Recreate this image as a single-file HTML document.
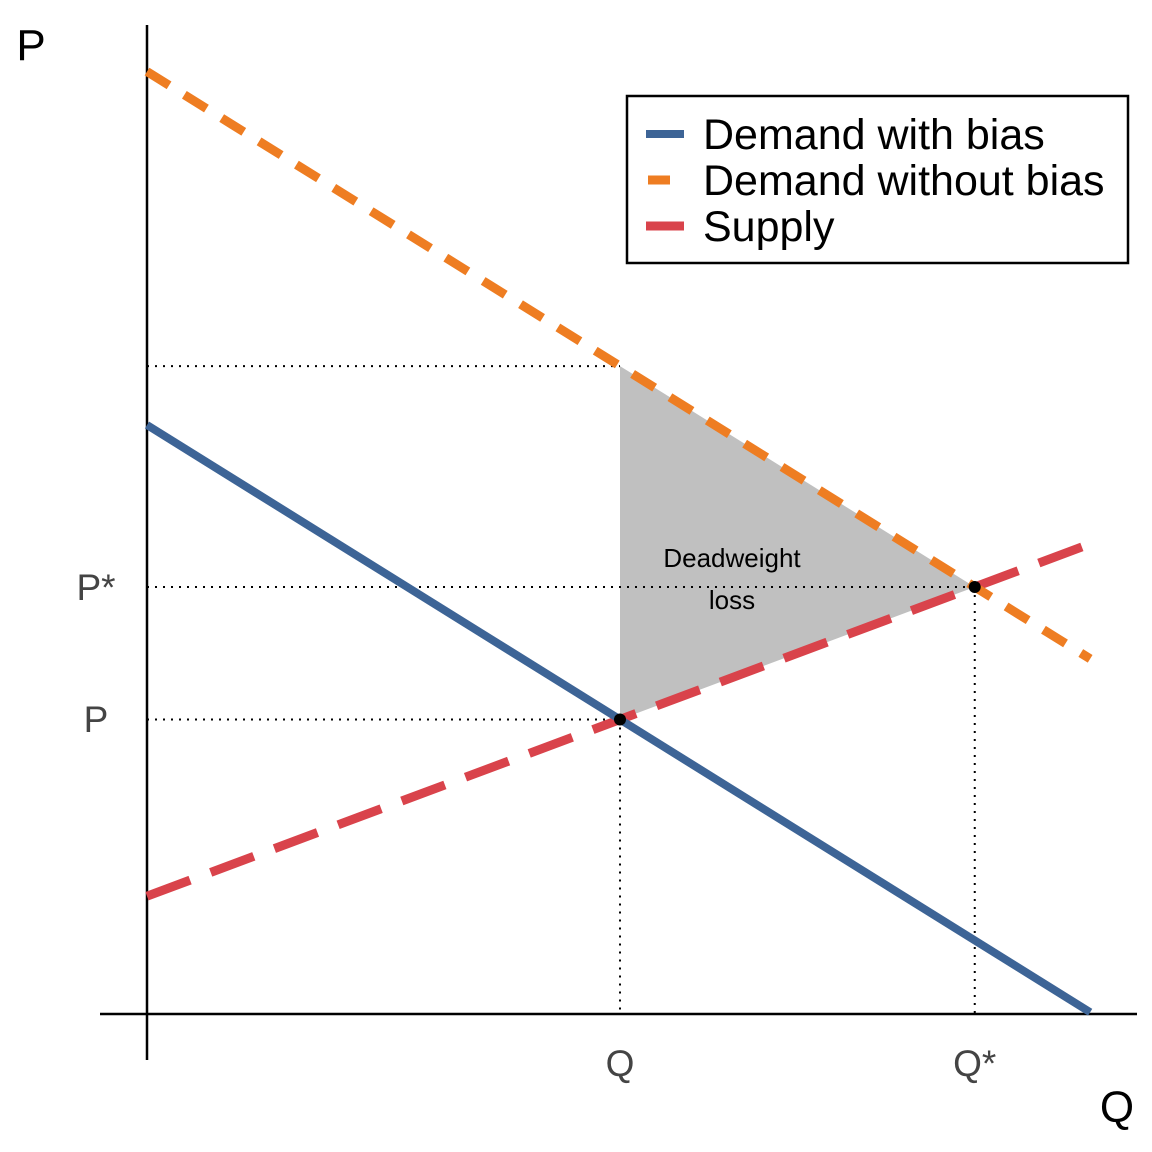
<!DOCTYPE html>
<html><head><meta charset="utf-8"><style>
html,body{margin:0;padding:0;background:#fff;width:1152px;height:1152px;overflow:hidden}
svg{font-family:"Liberation Sans",sans-serif}
</style></head><body>
<svg id="chart" width="1152" height="1152">
</svg>
<script>
const qMax = [10];
const demandBias = [10, -1];      // intercept, slope
const demandNoBias = [16, -1];
const supply = [2, 0.6];
const eqLabels = ["Q", "Q*"];
const priceLabels = ["P", "P*"];
const lineEnds = [9.97, 9.97, 9.92];

const NS="http://www.w3.org/2000/svg";
const svg=document.getElementById('chart');
const X=q=>147+q*94.6, Y=p=>1014-p*58.9;
function mk(t,a,name){const e=document.createElementNS(NS,t);for(const k in a)e.setAttribute(k,a[k]);


svg.appendChild(e);return e;}
function f(l,q){return l[0]+l[1]*q;}
function inter(a,b){const q=(b[0]-a[0])/(a[1]-b[1]);return [q,f(a,q)];}
const E1=inter(demandBias,supply), E2=inter(demandNoBias,supply);
// DWL
mk('polygon',{points:`${X(E1[0])},${Y(E1[1])} ${X(E1[0])},${Y(f(demandNoBias,E1[0]))} ${X(E2[0])},${Y(E2[1])}`,fill:'#c0c0c0'},'deadweight-loss-area');
// axes
mk('line',{x1:147,y1:25,x2:147,y2:1060,stroke:'#000','stroke-width':2.5},'y-axis');
mk('line',{x1:100,y1:1014,x2:1137,y2:1014,stroke:'#000','stroke-width':2.5},'x-axis');
// dotted guides
const dot={stroke:'#000','stroke-width':2,'stroke-dasharray':'2,6'};
mk('line',Object.assign({x1:147,y1:Y(f(demandNoBias,E1[0])),x2:X(E1[0]),y2:Y(f(demandNoBias,E1[0]))},dot),'guide-top');
mk('line',Object.assign({x1:147,y1:Y(E1[1]),x2:X(E1[0]),y2:Y(E1[1])},dot),'guide-p');
mk('line',Object.assign({x1:147,y1:Y(E2[1]),x2:X(E2[0]),y2:Y(E2[1])},dot),'guide-pstar');
mk('line',Object.assign({x1:X(E1[0]),y1:Y(E1[1]),x2:X(E1[0]),y2:1014},dot),'guide-q');
mk('line',Object.assign({x1:X(E2[0]),y1:Y(E2[1]),x2:X(E2[0]),y2:1014},dot),'guide-qstar');
// lines
mk('line',{x1:X(0),y1:Y(f(supply,0)),x2:X(lineEnds[2]),y2:Y(f(supply,lineEnds[2])),stroke:'#d9434b','stroke-width':9,'stroke-dasharray':'46,22'},'supply-line');
mk('line',{x1:X(0),y1:Y(f(demandBias,0)),x2:X(lineEnds[0]),y2:Y(f(demandBias,lineEnds[0])),stroke:'#3d6496','stroke-width':8},'demand-with-bias-line');
mk('line',{x1:X(0),y1:Y(f(demandNoBias,0)),x2:X(lineEnds[1]),y2:Y(f(demandNoBias,lineEnds[1])),stroke:'#ee7d22','stroke-width':9,'stroke-dasharray':'26,18'},'demand-without-bias-line');
mk('circle',{cx:X(E1[0]),cy:Y(E1[1]),r:6,fill:'#000'},'equilibrium-point');
mk('circle',{cx:X(E2[0]),cy:Y(E2[1]),r:6,fill:'#000'},'efficient-point');
// labels
function txt(x,y,s,sz,fill,name,anchor){const t=mk('text',{x:x,y:y,'font-size':sz,fill:fill,'text-anchor':anchor||'middle'},name);t.textContent=s;return t;}
txt(31,60,'P',44,'#000','y-axis-title');
txt(1117,1122,'Q',44,'#000','x-axis-title');
txt(96,732,priceLabels[0],37,'#444','tick-p');
txt(96,600,priceLabels[1],37,'#444','tick-pstar');
txt(X(E1[0]),1076,eqLabels[0],37,'#444','tick-q');
txt(X(E2[0]),1076,eqLabels[1],37,'#444','tick-qstar');
txt(732,567,'Deadweight',26,'#000','dwl-label-1');
txt(732,609,'loss',26,'#000','dwl-label-2');
// legend
mk('rect',{x:627,y:96,width:501,height:167,fill:'#fff',stroke:'#000','stroke-width':2.5},'legend-box');
mk('line',{x1:646,y1:134,x2:684,y2:134,stroke:'#3d6496','stroke-width':8},'legend-swatch-bias');
mk('line',{x1:648,y1:180,x2:670,y2:180,stroke:'#ee7d22','stroke-width':9},'legend-swatch-nobias');
mk('line',{x1:646,y1:226,x2:684,y2:226,stroke:'#d9434b','stroke-width':9},'legend-swatch-supply');
txt(703,149,'Demand with bias',43,'#000','legend-entry-bias','start');
txt(703,195,'Demand without bias',43,'#000','legend-entry-nobias','start');
txt(703,241,'Supply',43,'#000','legend-entry-supply','start');
</script>
</body></html>
